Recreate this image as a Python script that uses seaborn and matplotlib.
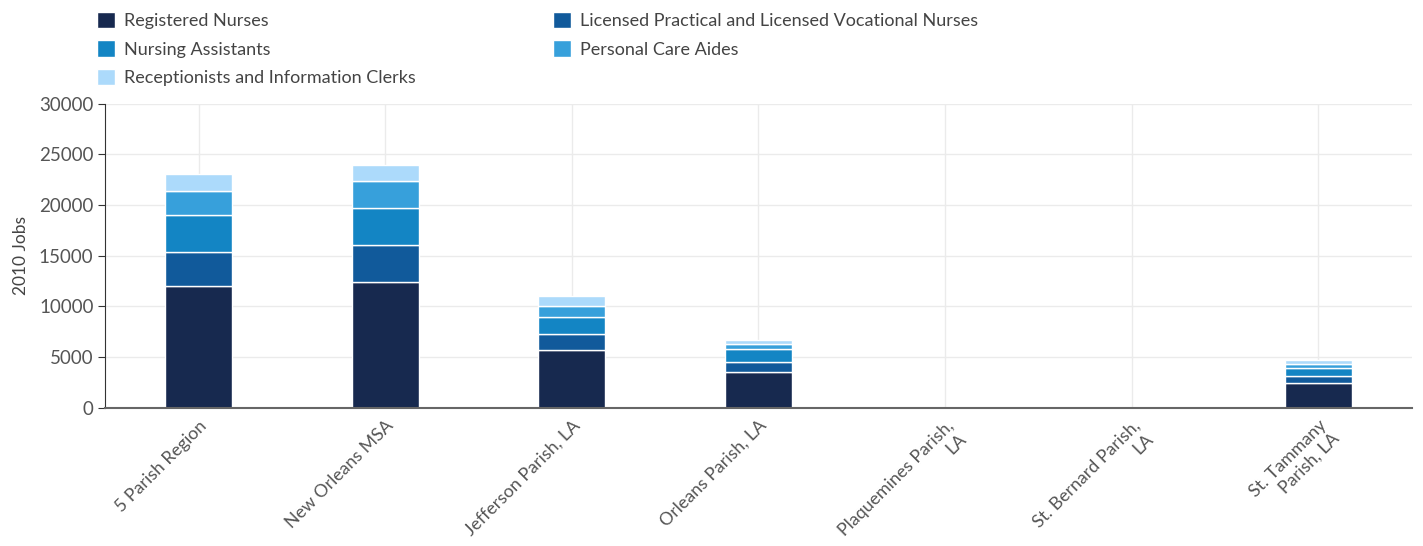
import numpy as np
import pandas as pd
import matplotlib
matplotlib.use('Agg')
import matplotlib.pyplot as plt
import seaborn as sns

# Data
areas = ['5 Parish Region', 'New Orleans MSA', 'Jefferson Parish, LA', 'Orleans Parish, LA',
         'Plaquemines Parish,\nLA', 'St. Bernard Parish,\nLA', 'St. Tammany\nParish, LA']
occupations = ['Registered Nurses', 'Licensed Practical and Licensed Vocational Nurses',
               'Nursing Assistants', 'Personal Care Aides', 'Receptionists and Information Clerks']
registered_nurses = [12000, 12400, 5730, 3520, 0, 0, 2440]
lpn_lvn = [3330, 3620, 1570, 1020, 0, 0, 720]
nursing_assistants = [3720, 3720, 1650, 1220, 0, 0, 760]
personal_care_aides = [2370, 2630, 1090, 530, 0, 0, 420]
receptionists = [1610, 1620, 950, 390, 0, 0, 400]
colors = ['#17294f', '#115a9b', '#1385c4', '#37a0db', '#acdafb']

series = [registered_nurses, lpn_lvn, nursing_assistants, personal_care_aides, receptionists]

sns.set_style('white')
plt.rcParams['font.family'] = ['Lato', 'DejaVu Sans']

fig, ax = plt.subplots(figsize=(14.23, 5.46), dpi=100)
fig.subplots_adjust(left=0.074, right=0.992, top=0.81, bottom=0.253)

# stack the layers with seaborn bars
bottom = np.zeros(len(areas))
for name, vals, col in zip(occupations, series, colors):
    df = pd.DataFrame({'Area': areas, 'Jobs': vals})
    sns.barplot(data=df, x='Area', y='Jobs', color=col, saturation=1, bottom=bottom, width=0.36,
                errorbar=None, edgecolor='white', linewidth=1, label=name, ax=ax, legend=False)
    bottom = bottom + np.array(vals)

ax.set_ylim(0, 30000)
ax.set_xlim(-0.5, len(areas) - 0.5)
ax.set_yticks(range(0, 30001, 5000))
ax.set_axisbelow(True)
ax.grid(True, color='#ebebeb', linewidth=1)
for s in ['top', 'right']:
    ax.spines[s].set_visible(False)
ax.spines['left'].set_color('#333333')
ax.spines['bottom'].set_color('#666666')
ax.spines['bottom'].set_linewidth(1.5)
ax.tick_params(axis='y', left=True, length=5, color='#333333', labelsize=13.5, labelcolor='#555555')
ax.tick_params(axis='x', bottom=False, labelsize=12.8, labelcolor='#555555')
ax.set_xlabel('')
ax.set_ylabel('2010 Jobs', fontsize=12.5, color='#444444', labelpad=7)
for lab in ax.get_xticklabels():
    lab.set_rotation(45)
    lab.set_ha('right')
    lab.set_rotation_mode('anchor')
    lab.set_multialignment('right')

handles, labels = ax.get_legend_handles_labels()
if ax.get_legend() is not None:
    ax.get_legend().remove()
order = [0, 2, 4, 1, 3]
leg = fig.legend([handles[i] for i in order], [labels[i] for i in order],
                 loc='upper left', bbox_to_anchor=(0.057, 1.008), ncol=2,
                 frameon=False, fontsize=13, handlelength=1.0, handleheight=1.0,
                 handletextpad=0.5, columnspacing=7.6, labelspacing=0.62)
for t in leg.get_texts():
    t.set_color('#444444')

fig.savefig('out.png', dpi=100)
